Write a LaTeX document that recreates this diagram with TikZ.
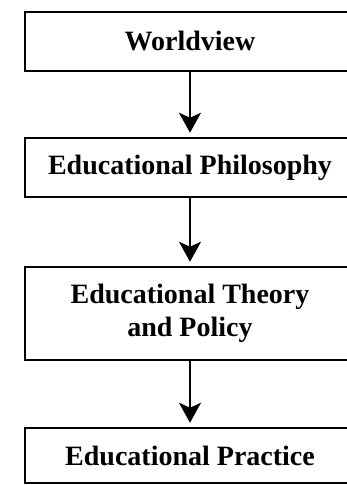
\documentclass[tikz,border=0pt]{standalone}
\usepackage{fontspec}
\setmainfont{Liberation Serif}
\usetikzlibrary{arrows.meta}
\usetikzlibrary{positioning}

\tikzset{
    stagebox/.style={draw, line width=2.5pt, minimum width=330pt, align=center,
        font=\bfseries\fontsize{28}{33}\selectfont},
    flowarrow/.style={-{Stealth[length=20pt, width=22pt, inset=5pt]}, line width=2pt, shorten >=4pt}
}

\begin{document}
\begin{tikzpicture}[x=1pt, y=1pt]
    \useasboundingbox (0,0) rectangle (347,485);
    \clip (0,0) rectangle (347,485);

    % Worldview
    \node[stagebox, minimum height=59pt] (worldview) at (190,443.5) {Worldview};

    % Educational Philosophy
    \node[stagebox, minimum height=59pt] (philosophy) at (190,317.5) {Educational Philosophy};

    % Educational Theory and Policy
    \node[stagebox, minimum height=93pt] (theory) at (190,171.5) {Educational Theory\\and Policy};

    % Educational Practice
    \node[stagebox, minimum height=55pt] (practice) at (190,29.5) {Educational Practice};

    % Arrows between stages
    \draw[flowarrow] (worldview) -- (philosophy);
    \draw[flowarrow] (philosophy) -- (theory);
    \draw[flowarrow] (theory) -- (practice);
\end{tikzpicture}
\end{document}
